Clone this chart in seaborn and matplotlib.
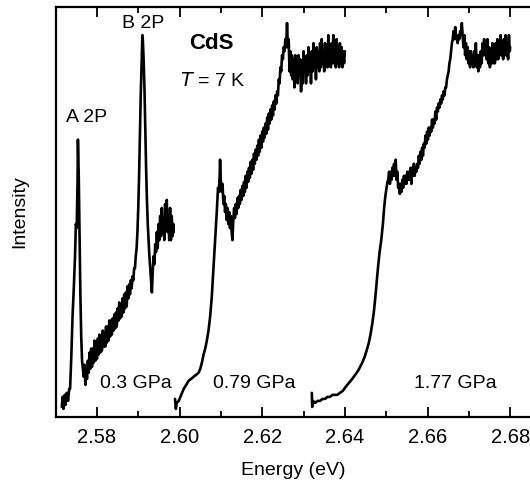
import pandas as pd
import matplotlib
matplotlib.use("Agg")
import matplotlib.pyplot as plt
import seaborn as sns
from matplotlib.ticker import MultipleLocator, FormatStrFormatter

# =============================
# Dados (energia em eV, intensidade em unidades arbitrarias)
# =============================
pressoes = ["0.3 GPa", "0.79 GPa", "1.77 GPa"]

curva_03 = [
    (2.5715, 2.5), (2.5717, 5), (2.5719, 2), (2.5722, 5.5), (2.5724, 3), (2.5727, 6),
    (2.5730, 4), (2.5733, 7), (2.5735, 7), (2.5738, 15), (2.5741, 25), (2.5744, 32),
    (2.5747, 40), (2.5749, 48), (2.5751, 47), (2.5753, 58), (2.5754, 69), (2.5756, 60),
    (2.5758, 45), (2.5760, 30), (2.5762, 20), (2.5764, 14), (2.5766, 12), (2.5768, 10),
    (2.5770, 13), (2.5772, 8), (2.5774, 12), (2.5776, 9.5),
    (2.5778, 14), (2.5780, 11), (2.5782, 16), (2.5784, 12), (2.5786, 17), (2.5788, 12.5),
    (2.5790, 17), (2.5792, 13.5), (2.5794, 19), (2.5796, 14), (2.5798, 18), (2.5800, 14.5),
    (2.5802, 19.5), (2.5804, 15.5), (2.5806, 20.5), (2.5808, 16), (2.5810, 20), (2.5812, 16.5),
    (2.5814, 21.5), (2.5816, 17.5), (2.5818, 21), (2.5820, 17.5), (2.5822, 22.5), (2.5824, 18.5),
    (2.5826, 22.5), (2.5828, 19), (2.5830, 24), (2.5832, 20), (2.5834, 24), (2.5836, 20.5),
    (2.5838, 24.5), (2.5840, 21.5), (2.5842, 25.5), (2.5844, 22), (2.5846, 26), (2.5848, 22.5),
    (2.5850, 27), (2.5852, 24), (2.5854, 28.5), (2.5856, 24.5), (2.5858, 28), (2.5860, 25),
    (2.5862, 29.5), (2.5864, 26), (2.5866, 30.5), (2.5868, 27), (2.5870, 31), (2.5872, 27.5),
    (2.5874, 32.5), (2.5876, 29.5), (2.5878, 33), (2.5880, 30.5), (2.5882, 34), (2.5884, 32),
    (2.5886, 35), (2.5888, 34), (2.5890, 37), (2.5892, 37), (2.5894, 40), (2.5896, 42),
    (2.5898, 46), (2.5900, 52), (2.5902, 60), (2.5904, 70), (2.5906, 80), (2.5908, 88),
    (2.5910, 95), (2.5911, 94), (2.5913, 89), (2.5915, 82), (2.5917, 72), (2.5919, 62),
    (2.5921, 54), (2.5923, 48), (2.5925, 44), (2.5927, 40), (2.5929, 37), (2.5931, 34),
    (2.5933, 31), (2.5935, 36), (2.5937, 40), (2.5939, 38), (2.5941, 43), (2.5943, 41),
    (2.5945, 46), (2.5947, 42), (2.5949, 48), (2.5951, 44), (2.5953, 50), (2.5955, 45),
    (2.5957, 52), (2.5959, 46), (2.5961, 49), (2.5963, 44), (2.5965, 53), (2.5967, 47),
    (2.5969, 54), (2.5971, 46), (2.5973, 50), (2.5975, 44), (2.5977, 52), (2.5979, 44),
    (2.5981, 50), (2.5983, 45), (2.5985, 48), (2.5986, 46),
]

curva_079 = [
    (2.5989, 4.5), (2.5991, 2), (2.5993, 3.5), (2.5998, 4), (2.6004, 5.5), (2.6010, 7),
    (2.6016, 8), (2.6022, 9), (2.6028, 9.5), (2.6034, 10), (2.6040, 10.5), (2.6046, 11),
    (2.6050, 12), (2.6054, 13.5), (2.6058, 15.5), (2.6062, 17), (2.6066, 19), (2.6070, 21.5),
    (2.6074, 25), (2.6078, 30), (2.6082, 37), (2.6086, 44), (2.6090, 51), (2.6093, 57),
    (2.6095, 56), (2.6097, 60), (2.6098, 64), (2.6100, 58), (2.6102, 56), (2.6104, 58),
    (2.6106, 53), (2.6108, 55), (2.6110, 51), (2.6112, 53), (2.6114, 49), (2.6116, 52),
    (2.6118, 48), (2.6120, 51), (2.6122, 47), (2.6124, 50), (2.6126, 46), (2.6128, 44),
    (2.6130, 49), (2.6132, 52), (2.6134, 49.5), (2.6136, 53), (2.6138, 50.5), (2.6140, 54.5),
    (2.6142, 52), (2.6144, 55), (2.6146, 53), (2.6148, 56.5), (2.6150, 54), (2.6152, 57.5),
    (2.6154, 55), (2.6156, 58.5), (2.6158, 56), (2.6160, 60), (2.6162, 57), (2.6164, 61),
    (2.6166, 58.5), (2.6168, 62), (2.6170, 59.5), (2.6172, 63.5), (2.6174, 60.5), (2.6176, 64),
    (2.6178, 61.5), (2.6180, 65.5), (2.6182, 63), (2.6184, 66.5), (2.6186, 64), (2.6188, 67.5),
    (2.6190, 65), (2.6192, 69), (2.6194, 66), (2.6196, 70), (2.6198, 67), (2.6200, 71),
    (2.6202, 68.5), (2.6204, 72), (2.6206, 69.5), (2.6208, 73), (2.6210, 70.5), (2.6212, 74.5),
    (2.6214, 71.5), (2.6216, 75.5), (2.6218, 73), (2.6220, 76.5), (2.6222, 74), (2.6224, 77.5),
    (2.6226, 75), (2.6228, 78.5), (2.6230, 76.5), (2.6232, 80), (2.6234, 78), (2.6236, 81),
    (2.6238, 80), (2.6240, 84), (2.6242, 83), (2.6244, 87), (2.6246, 86), (2.6248, 90),
    (2.6250, 89), (2.6252, 92), (2.6254, 91), (2.6256, 94), (2.6258, 92), (2.6260, 98),
    (2.6262, 92), (2.6264, 94), (2.6266, 86), (2.6268, 91), (2.6270, 85), (2.6272, 90),
    (2.6274, 84), (2.6276, 89), (2.6278, 82), (2.6280, 90), (2.6282, 85), (2.6284, 88),
    (2.6286, 83), (2.6288, 90), (2.6290, 85), (2.6292, 89), (2.6294, 81), (2.6296, 88),
    (2.6298, 83), (2.6300, 91), (2.6302, 86), (2.6304, 89), (2.6306, 83), (2.6308, 90),
    (2.6310, 85), (2.6312, 92), (2.6314, 86), (2.6316, 90), (2.6318, 83), (2.6320, 91),
    (2.6322, 86), (2.6324, 93), (2.6326, 87), (2.6328, 91), (2.6330, 84), (2.6332, 92),
    (2.6334, 87), (2.6336, 91), (2.6338, 86), (2.6340, 93), (2.6342, 87), (2.6344, 94),
    (2.6346, 88), (2.6348, 91), (2.6350, 86), (2.6352, 93), (2.6354, 88), (2.6356, 92),
    (2.6358, 87), (2.6360, 95), (2.6362, 88), (2.6364, 92), (2.6366, 87), (2.6368, 93),
    (2.6370, 88), (2.6372, 95), (2.6374, 88), (2.6376, 92), (2.6378, 87), (2.6380, 94),
    (2.6382, 88), (2.6384, 92), (2.6386, 87), (2.6388, 93), (2.6390, 88), (2.6392, 92),
    (2.6394, 87), (2.6396, 91), (2.6398, 88), (2.6400, 91),
]

curva_177 = [
    (2.6320, 6), (2.6321, 2.5), (2.6323, 4), (2.6328, 3.5), (2.6334, 4), (2.6340, 4),
    (2.6346, 4.5), (2.6352, 4.5), (2.6358, 5), (2.6364, 5), (2.6370, 5.5), (2.6376, 5.5),
    (2.6382, 5.5), (2.6388, 6), (2.6395, 6.5), (2.6402, 7.5), (2.6410, 8.5), (2.6418, 9.5),
    (2.6425, 10.5), (2.6432, 11.5), (2.6437, 12.5), (2.6442, 13.5), (2.6448, 15), (2.6454, 17),
    (2.6458, 18.5), (2.6462, 20.5), (2.6466, 23), (2.6470, 26), (2.6473, 29), (2.6476, 32.5),
    (2.6480, 37), (2.6484, 41), (2.6488, 44), (2.6492, 48), (2.6495, 52), (2.6498, 55),
    (2.6501, 57), (2.6503, 58.5), (2.6505, 59), (2.6507, 61), (2.6509, 58), (2.6511, 61),
    (2.6513, 59), (2.6515, 62), (2.6517, 60), (2.6519, 63), (2.6521, 60), (2.6523, 64),
    (2.6525, 59), (2.6527, 61), (2.6529, 57), (2.6531, 58), (2.6533, 55.5), (2.6535, 58),
    (2.6537, 56), (2.6539, 59), (2.6541, 57), (2.6543, 60), (2.6545, 58), (2.6547, 60),
    (2.6549, 58), (2.6551, 61), (2.6553, 59), (2.6555, 61), (2.6557, 59), (2.6559, 62),
    (2.6561, 58), (2.6563, 62), (2.6565, 60), (2.6567, 63), (2.6569, 60), (2.6571, 62),
    (2.6573, 61), (2.6575, 63), (2.6577, 62), (2.6579, 65), (2.6581, 63), (2.6583, 66),
    (2.6585, 64), (2.6587, 67), (2.6589, 65), (2.6591, 68), (2.6593, 67), (2.6595, 70),
    (2.6597, 68), (2.6599, 71), (2.6601, 69), (2.6603, 72), (2.6605, 70), (2.6607, 72),
    (2.6609, 71), (2.6611, 74), (2.6613, 72), (2.6615, 74), (2.6617, 73), (2.6619, 76),
    (2.6621, 74), (2.6623, 77), (2.6625, 76), (2.6627, 78), (2.6629, 77), (2.6631, 79),
    (2.6633, 78), (2.6635, 80), (2.6637, 79), (2.6639, 81), (2.6641, 80), (2.6643, 82),
    (2.6645, 82), (2.6647, 84), (2.6649, 85), (2.6651, 86), (2.6653, 88), (2.6655, 89),
    (2.6657, 91), (2.6659, 93), (2.6661, 94), (2.6663, 96), (2.6665, 94), (2.6667, 97),
    (2.6669, 95), (2.6671, 94), (2.6673, 93), (2.6675, 95), (2.6677, 94), (2.6679, 96),
    (2.6681, 95), (2.6683, 98), (2.6685, 95), (2.6687, 92), (2.6689, 95), (2.6691, 90),
    (2.6693, 93), (2.6695, 89), (2.6697, 92), (2.6699, 88), (2.6701, 91), (2.6703, 87),
    (2.6705, 91), (2.6707, 88), (2.6709, 90), (2.6711, 87), (2.6713, 91), (2.6715, 89),
    (2.6717, 93), (2.6719, 87), (2.6721, 90), (2.6723, 86), (2.6725, 90), (2.6727, 87),
    (2.6729, 91), (2.6731, 88), (2.6733, 93), (2.6735, 90), (2.6737, 94), (2.6739, 90),
    (2.6741, 92), (2.6743, 89), (2.6745, 94), (2.6747, 88), (2.6749, 92), (2.6751, 87),
    (2.6753, 91), (2.6755, 88), (2.6757, 93), (2.6759, 88), (2.6761, 91), (2.6763, 88),
    (2.6765, 93), (2.6767, 89), (2.6769, 94), (2.6771, 89), (2.6773, 93), (2.6775, 90),
    (2.6777, 95), (2.6779, 90), (2.6781, 93), (2.6783, 89), (2.6785, 94), (2.6787, 90),
    (2.6789, 95), (2.6791, 90), (2.6793, 93), (2.6795, 89), (2.6797, 95), (2.6799, 91),
    (2.6800, 92),
]

# =============================
# Montar DataFrame longo
# =============================
linhas = []
for nome, curva in zip(pressoes, [curva_03, curva_079, curva_177]):
    for e, inten in curva:
        linhas.append({"pressao": nome, "energia": e, "intensidade": inten})
df = pd.DataFrame(linhas)

# =============================
# Grafico
# =============================
sns.set_theme(style="ticks")
plt.rcParams['font.family'] = ['Liberation Sans', 'DejaVu Sans']
plt.rcParams['text.color'] = 'black'
plt.rcParams['axes.labelcolor'] = 'black'

fig = plt.figure(figsize=(5.3, 4.8), dpi=100)
ax = fig.add_axes([0.1057, 0.1313, 0.8943, 0.8541])

sns.lineplot(data=df, x="energia", y="intensidade", units="pressao", estimator=None,
             sort=False, color="black", linewidth=1.9, ax=ax)

ax.set_xlim(2.5701, 2.6848)
ax.set_ylim(0, 102)
ax.xaxis.set_major_locator(MultipleLocator(0.02))
ax.xaxis.set_minor_locator(MultipleLocator(0.01))
ax.xaxis.set_major_formatter(FormatStrFormatter('%.2f'))
ax.set_yticks([])
ax.tick_params(axis='x', which='major', direction='in', length=7, width=1.3,
               top=True, labelsize=14.5, pad=8, colors='black')
ax.tick_params(axis='x', which='minor', direction='in', length=4, width=1.3,
               top=True, colors='black')
for lado in ['left', 'bottom', 'top']:
    ax.spines[lado].set_linewidth(1.6)
    ax.spines[lado].set_color('black')
ax.spines['right'].set_visible(False)

ax.set_xlabel('Energy (eV)', fontsize=14, labelpad=11)
ax.set_ylabel('Intensity', fontsize=14, labelpad=20)

# rotulos
ax.text(2.5776, 74.5, 'A 2P', fontsize=14, ha='center', va='center')
ax.text(2.5911, 98.0, 'B 2P', fontsize=14, ha='center', va='center')
ax.text(2.6078, 93.0, 'CdS', fontsize=16, fontweight='bold', ha='center', va='center')
ax.text(2.6081, 83.5, '$\\mathit{T}$ = 7 K', fontsize=14, ha='center', va='center')
ax.text(2.5894, 8.3, '0.3 GPa', fontsize=14, ha='center', va='center')
ax.text(2.6180, 8.3, '0.79 GPa', fontsize=14, ha='center', va='center')
ax.text(2.6667, 8.3, '1.77 GPa', fontsize=14, ha='center', va='center')

fig.savefig('out.png', dpi=100)
